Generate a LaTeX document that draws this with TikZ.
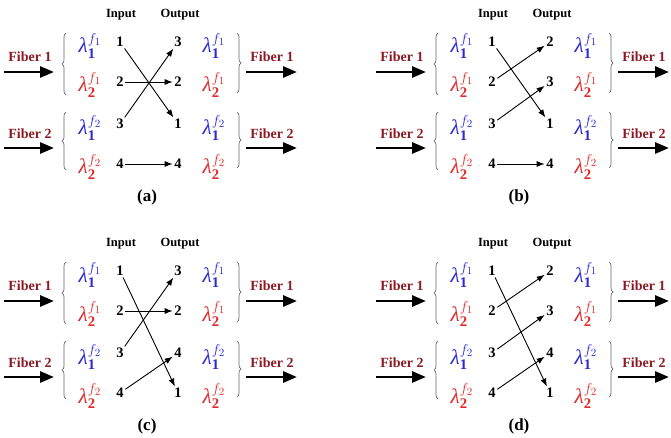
\documentclass[tikz,border=0pt]{standalone}
\usepackage{fontspec}
\setmainfont{Liberation Serif}
\usetikzlibrary{arrows.meta,decorations.pathreplacing}
\definecolor{fibred}{HTML}{8B1A24}
\definecolor{lamblue}{HTML}{2A2AD0}
\definecolor{lamred}{HTML}{E02828}
\newcommand{\lam}[2]{$\mbox{\itshape λ}^{f_{#2}}_{\mathbf{#1}}$}
\tikzset{
  fibertxt/.style={font=\bfseries\fontsize{14}{14}\selectfont, text=fibred, inner sep=1pt},
  hdr/.style={font=\bfseries\fontsize{12.5}{12.5}\selectfont, inner sep=1pt},
  num/.style={font=\bfseries\fontsize{14.5}{14.5}\selectfont, inner sep=1.5pt},
  lamnode/.style={font=\fontsize{21}{21}\selectfont, inner sep=0pt, anchor=base},
  fiberarrow/.style={line width=2.8pt, -{Triangle[length=14pt,width=11pt]}},
  link/.style={line width=0.9pt, -{Latex[length=8pt,width=6pt]}},
  brc/.style={draw=black!60, line width=0.7pt, decorate, decoration={brace, amplitude=4pt}},
  plabel/.style={font=\bfseries\fontsize{17}{17}\selectfont, inner sep=1pt}
}
\begin{document}
\begin{tikzpicture}[x=1pt,y=-1pt]
\useasboundingbox (0,0) rectangle (671,438);
\foreach \p/\ox/\oy/\ra/\rb/\rc/\rd in {a/0/0/3/2/1/4, b/372/0/2/3/1/4, c/0/229/3/2/4/1, d/372/229/2/3/4/1}{
\begin{scope}[shift={(\ox,\oy)}]
  \node[hdr] (\p-hin) at (121,15) {Input};
  \node[hdr] (\p-hout) at (180,15) {Output};
  % fibers left
  \node[fibertxt] (\p-fl1) at (30,57) {Fiber 1};
  \node[fibertxt] (\p-fl2) at (30,134) {Fiber 2};
  \coordinate (\p-fl1s) at (4,72);  \coordinate (\p-fl1e) at (54,72);
  \coordinate (\p-fl2s) at (4,148); \coordinate (\p-fl2e) at (54,148);
  \draw[fiberarrow] (\p-fl1s) -- (\p-fl1e);
  \draw[fiberarrow] (\p-fl2s) -- (\p-fl2e);
  % fibers right
  \node[fibertxt] (\p-fr1) at (272,57) {Fiber 1};
  \node[fibertxt] (\p-fr2) at (272,134) {Fiber 2};
  \coordinate (\p-fr1s) at (246,72);  \coordinate (\p-fr1e) at (297,72);
  \coordinate (\p-fr2s) at (246,148); \coordinate (\p-fr2e) at (297,148);
  \draw[fiberarrow] (\p-fr1s) -- (\p-fr1e);
  \draw[fiberarrow] (\p-fr2s) -- (\p-fr2e);
  % braces
  \coordinate (\p-bl1t) at (66,33);  \coordinate (\p-bl1b) at (66,95);
  \coordinate (\p-bl2t) at (66,112); \coordinate (\p-bl2b) at (66,170);
  \coordinate (\p-br1t) at (237,33);  \coordinate (\p-br1b) at (237,93);
  \coordinate (\p-br2t) at (237,112); \coordinate (\p-br2b) at (237,168);
  \draw[brc] (\p-bl1b) -- (\p-bl1t);
  \draw[brc] (\p-bl2b) -- (\p-bl2t);
  \draw[brc] (\p-br1t) -- (\p-br1b);
  \draw[brc] (\p-br2t) -- (\p-br2b);
  % lambdas left
  \node[lamnode, text=lamblue] (\p-ll1) at (90,53) {\lam{1}{1}};
  \node[lamnode, text=lamred]  (\p-ll2) at (90,92) {\lam{2}{1}};
  \node[lamnode, text=lamblue] (\p-ll3) at (90,135) {\lam{1}{2}};
  \node[lamnode, text=lamred]  (\p-ll4) at (90,174) {\lam{2}{2}};
  % lambdas right
  \node[lamnode, text=lamblue] (\p-lr1) at (214,53) {\lam{1}{1}};
  \node[lamnode, text=lamred]  (\p-lr2) at (214,92) {\lam{2}{1}};
  \node[lamnode, text=lamblue] (\p-lr3) at (214,135) {\lam{1}{2}};
  \node[lamnode, text=lamred]  (\p-lr4) at (214,174) {\lam{2}{2}};
  % input numbers
  \node[num] (\p-i1) at (120,42) {1};
  \node[num] (\p-i2) at (120,82) {2};
  \node[num] (\p-i3) at (120,124) {3};
  \node[num] (\p-i4) at (120,164) {4};
  % output numbers
  \node[num] (\p-o\ra) at (178,42) {\ra};
  \node[num] (\p-o\rb) at (178,82) {\rb};
  \node[num] (\p-o\rc) at (178,124) {\rc};
  \node[num] (\p-o\rd) at (178,164) {\rd};
  % links
  \draw[link] (\p-i1) -- (\p-o1);
  \draw[link] (\p-i2) -- (\p-o2);
  \draw[link] (\p-i3) -- (\p-o3);
  \draw[link] (\p-i4) -- (\p-o4);
  \node[plabel] (\p-lab) at (147,197) {(\p)};
\end{scope}
}
\end{tikzpicture}
\end{document}
